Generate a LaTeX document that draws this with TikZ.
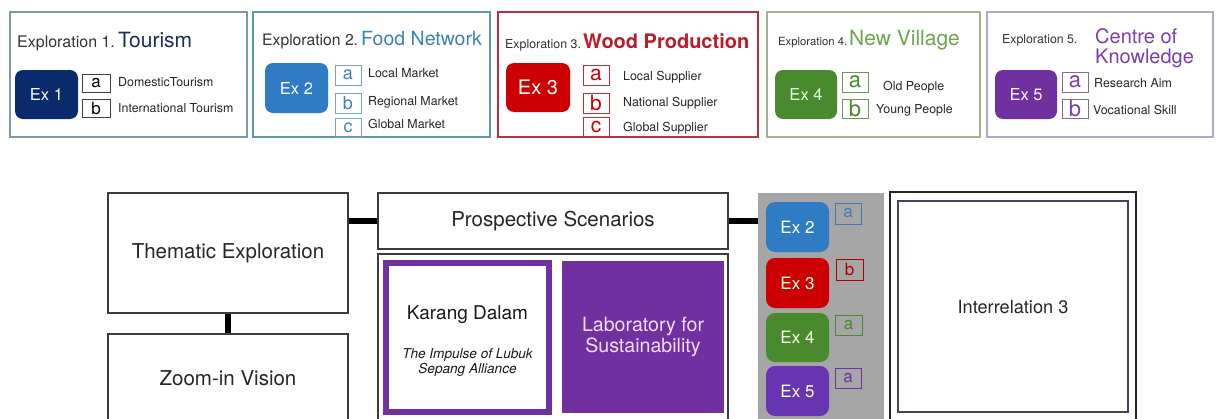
\documentclass[tikz,border=0pt]{standalone}
\usepackage{fontspec}
\setmainfont{TeX Gyre Heros}
\newcommand{\myfs}[2]{\fontsize{#1}{#2}\selectfont}
\definecolor{navy}{HTML}{0B2A6B}
\definecolor{navyt}{HTML}{1C2E5E}
\definecolor{exblue}{HTML}{2F7CC4}
\definecolor{blut}{HTML}{3B82B8}
\definecolor{blub}{HTML}{5E9AAA}
\definecolor{blul}{HTML}{7AA4BE}
\definecolor{exred}{HTML}{CC0000}
\definecolor{redt}{HTML}{BE1A2A}
\definecolor{redb}{HTML}{B8303E}
\definecolor{exgreen}{HTML}{4A8A2E}
\definecolor{greent}{HTML}{6AA84F}
\definecolor{greenb}{HTML}{A3B294}
\definecolor{greenl}{HTML}{6C9A54}
\definecolor{expurp}{HTML}{7030A0}
\definecolor{purpt}{HTML}{7A3FB0}
\definecolor{purpb}{HTML}{B4A6CA}
\definecolor{purpl}{HTML}{7F6C9E}
\definecolor{grayb}{HTML}{7E9AA8}
\definecolor{panel}{HTML}{A6A6A6}
\definecolor{dark}{HTML}{3C3C3C}
\definecolor{labtxt}{HTML}{F4DCF4}
\definecolor{innerp}{HTML}{4C405C}
\begin{document}
\begin{tikzpicture}[x=1pt,y=-1pt,
  topbox/.style={draw=#1,line width=1.1pt,inner sep=0pt,minimum height=125pt},
  exbox/.style={fill=#1,rounded corners=8pt,text=white,inner sep=0pt,font=\myfs{16.5}{19}},
  letbox/.style={draw=#1,line width=1pt,inner sep=0pt},
  item/.style={anchor=west,inner sep=0pt,font=\myfs{12.4}{14},text=black!85},
  ttl/.style={anchor=base west,inner sep=0pt,text=black!80},
  bigbox/.style={draw=dark,line width=1.3pt,inner sep=0pt,font=\myfs{20.5}{24},text=black!85},
  conn/.style={line width=6pt,black},
  pex/.style={fill=#1,rounded corners=9pt,text=white!92!yellow,inner sep=0pt,minimum width=63pt,font=\myfs{17}{20}},
  plet/.style={draw=#1,text=#1,line width=1pt,inner sep=0pt,font=\myfs{17}{20}}
]
\clip (0,0) rectangle (1219,418);
\fill[white] (0,0) rectangle (1219,418);

% ---------- top row ----------
\node[topbox=grayb,minimum width=237pt] (b1) at (128.5,74.5) {};
\node[topbox=blub,minimum width=237pt] (b2) at (371.5,74.5) {};
\node[topbox=redb,minimum width=260pt] (b3) at (628,74.5) {};
\node[topbox=greenb,minimum width=213pt] (b4) at (873.5,74.5) {};
\node[topbox=purpb,minimum width=226pt] (b5) at (1100,74.5) {};

% titles
\node[ttl,font=\myfs{16}{19}] (t1a) at (17,47) {Exploration 1.};
\node[ttl,font=\myfs{21}{24},text=navyt] (t1b) at (118,47) {Tourism};
\node[ttl,font=\myfs{15.7}{19}] (t2a) at (262,45) {Exploration 2.};
\node[ttl,font=\myfs{19.5}{23},text=blut] (t2b) at (361,45) {Food Network};
\node[ttl,font=\myfs{12.4}{15}] (t3a) at (505,48) {Exploration 3.};
\node[ttl,font=\bfseries\myfs{20}{23},text=redt] (t3b) at (583,48) {Wood Production};
\node[ttl,font=\myfs{11.3}{14}] (t4a) at (778,45) {Exploration 4.};
\node[ttl,font=\myfs{21}{24},text=greent] (t4b) at (849,45) {New Village};
\node[ttl,font=\myfs{12.3}{15}] (t5a) at (1002,43) {Exploration 5.};
\node[ttl,font=\myfs{20}{20},text=purpt,align=left] (t5b) at (1095,63) {Centre of\\Knowledge};

% Ex boxes
\node[exbox=navy,minimum width=63pt,minimum height=49pt] (e1) at (46.5,94.5) {Ex 1};
\node[exbox=exblue,minimum width=63pt,minimum height=50pt] (e2) at (296.5,88) {Ex 2};
\node[exbox=exred,minimum width=64pt,minimum height=49pt,font=\myfs{20}{23}] (e3) at (538,87.5) {Ex 3};
\node[exbox=exgreen,minimum width=62pt,minimum height=49pt,text=white!88!green] (e4) at (806,94.5) {Ex 4};
\node[exbox=expurp,minimum width=62pt,minimum height=49pt] (e5) at (1026,94.5) {Ex 5};

% letter boxes
\node[letbox=black!75,minimum width=28pt,minimum height=18pt,font=\myfs{17}{20}] (l1a) at (96,83) {a};
\node[letbox=black!75,minimum width=28pt,minimum height=18pt,font=\myfs{17}{20}] (l1b) at (96,108) {b};
\node[letbox=blul,text=blut,minimum width=26pt,minimum height=20pt,font=\myfs{18}{20}] (l2a) at (348,75) {a};
\node[letbox=blul,text=blut,minimum width=26pt,minimum height=20pt,font=\myfs{18}{20}] (l2b) at (348,103) {b};
\node[letbox=blul,text=blut,minimum width=26pt,minimum height=19pt,font=\myfs{18}{20}] (l2c) at (348,127.5) {c};
\node[letbox=redb,text=exred,minimum width=26pt,minimum height=20pt,font=\myfs{21}{22}] (l3a) at (596,75) {a};
\node[letbox=redb,text=exred,minimum width=26pt,minimum height=20pt,font=\myfs{21}{22}] (l3b) at (596,103) {b};
\node[letbox=redb,text=exred,minimum width=26pt,minimum height=20pt,font=\myfs{21}{22}] (l3c) at (596,127) {c};
\node[letbox=greenl,text=exgreen,minimum width=26pt,minimum height=20pt,font=\myfs{22}{22}] (l4a) at (855,82) {a};
\node[letbox=greenl,text=exgreen,minimum width=26pt,minimum height=19pt,font=\myfs{22}{22}] (l4b) at (855,108.5) {b};
\node[letbox=purpl,text=purpt,minimum width=26pt,minimum height=20pt,font=\myfs{22}{22}] (l5a) at (1075,82) {a};
\node[letbox=purpl,text=purpt,minimum width=26pt,minimum height=19pt,font=\myfs{22}{22}] (l5b) at (1075,108.5) {b};

% item labels
\node[item] (i1a) at (118,82) {DomesticTourism};
\node[item] (i1b) at (118,108) {International Tourism};
\node[item] (i2a) at (368,73) {Local Market};
\node[item] (i2b) at (368,102) {Regional Market};
\node[item] (i2c) at (368,124) {Global Market};
\node[item] (i3a) at (623,77) {Local Supplier};
\node[item] (i3b) at (623,103) {National Supplier};
\node[item] (i3c) at (623,128) {Global Supplier};
\node[item] (i4a) at (883,87) {Old People};
\node[item] (i4b) at (876,110) {Young People};
\node[item] (i5a) at (1094,83) {Research Aim};
\node[item] (i5b) at (1093,110) {Vocational Skill};

% ---------- bottom ----------
\node[bigbox,minimum width=240pt,minimum height=120pt] (them) at (228,253) {Thematic Exploration};
\node[bigbox,minimum width=240pt,minimum height=88pt] (zoom) at (228,378) {Zoom-in Vision};
\node[bigbox,minimum width=350pt,minimum height=56pt] (pros) at (553,221) {Prospective Scenarios};
\node[bigbox,minimum width=350pt,minimum height=168pt] (psc) at (553,338) {};
\node[draw=expurp,line width=6pt,fill=white,minimum width=163pt,minimum height=149pt,inner sep=0pt] (kar) at (467.5,337.5) {};
\node[inner sep=0pt,font=\myfs{19}{22},text=black!90] (kt1) at (467.5,315) {Karang Dalam};
\node[inner sep=0pt,font=\itshape\myfs{13.6}{15.5},text=black!90,align=center] (kt2) at (467.5,362.5) {The Impulse of Lubuk\\Sepang Alliance};
\node[fill=expurp,minimum width=162pt,minimum height=152pt,inner sep=0pt,text=labtxt,font=\myfs{19.6}{21.5},align=center] (lab) at (643,337) {Laboratory for\\Sustainability};

\node[fill=panel,minimum width=126pt,minimum height=229pt,inner sep=0pt] (pan) at (821,307.5) {};
\node[pex=exblue,minimum height=50pt] (p2) at (797.5,227) {Ex 2};
\node[pex=exred,minimum height=50pt] (p3) at (797.5,283) {Ex 3};
\node[pex=exgreen,minimum height=49pt] (p4) at (797.5,337.5) {Ex 4};
\node[pex=expurp!85!blue!95,minimum height=50pt] (p5) at (797.5,391) {Ex 5};
\node[plet=exblue!80!gray,minimum width=26pt,minimum height=21pt] (q2) at (848,213.5) {a};
\node[plet=exred!85!black,minimum width=27pt,minimum height=21pt] (q3) at (849.5,269.5) {b};
\node[plet=exgreen,minimum width=27pt,minimum height=20pt] (q4) at (848.5,325) {a};
\node[plet=expurp,minimum width=26pt,minimum height=20pt] (q5) at (848,378) {a};

\node[draw=black!85,line width=1.6pt,minimum width=246pt,minimum height=230pt,inner sep=0pt] (irel) at (1013,307) {};
\node[draw=innerp,line width=1.3pt,minimum width=230pt,minimum height=211pt,inner sep=0pt,font=\myfs{18.2}{21},text=black!85] (irin) at (1013,306.5) {Interrelation 3};

% connectors
\draw[conn] (them.south) -- (zoom.north);
\draw[conn] (pros.west -| them.east) -- (pros.west);
\draw[conn] (pros.east) -- (pros.east -| pan.west);
\end{tikzpicture}
\end{document}
